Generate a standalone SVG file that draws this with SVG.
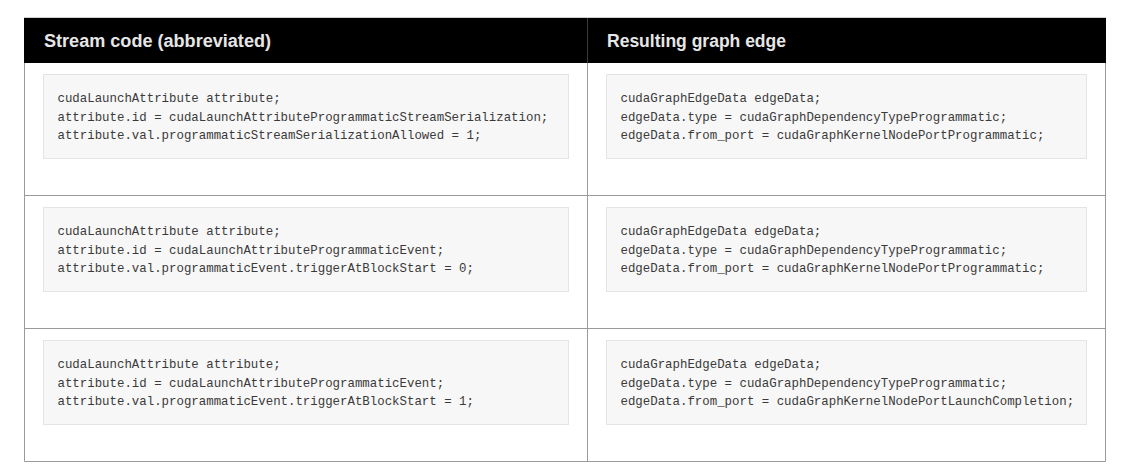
<svg xmlns="http://www.w3.org/2000/svg" width="1144" height="466" viewBox="0 0 1144 466">
<style>
.hdr{font-family:"Liberation Sans",Arial,sans-serif;font-weight:bold;font-size:17.5px;fill:#e6e6e6}
.code{font-family:"Liberation Mono","DejaVu Sans Mono",monospace;font-size:12.4px;fill:#3a3a3a}
.box{fill:#f7f7f7;stroke:#e4e4e4;stroke-width:1}
.grid{stroke:#9a9a9a;stroke-width:1;fill:none}
</style>
<rect width="1144" height="466" fill="#ffffff"/>
<g id="header">
<rect x="24" y="17.5" width="1082" height="45.5" fill="#000000"/>
<line x1="24" y1="17.5" x2="1106" y2="17.5" stroke="#cfcfcf" stroke-width="1"/>
<line x1="587.5" y1="18" x2="587.5" y2="63" stroke="#3a3a3a" stroke-width="1"/>
<text class="hdr" x="44" y="47" textLength="227" lengthAdjust="spacingAndGlyphs">Stream code (abbreviated)</text>
<text class="hdr" x="607" y="47" textLength="179" lengthAdjust="spacingAndGlyphs">Resulting graph edge</text>
</g>
<g id="grid">
<path class="grid" d="M24.5 63 V461.5 H1105.5 V63 M587.5 63 V461.5 M24.5 195.5 H1105.5 M24.5 328.5 H1105.5"/>
</g>
<g id="row1-left">
<rect class="box" x="43.5" y="74.5" width="525" height="84"/>
<text class="code" x="57.5" y="102">cudaLaunchAttribute attribute;</text>
<text class="code" x="57.5" y="120.5">attribute.id = cudaLaunchAttributeProgrammaticStreamSerialization;</text>
<text class="code" x="57.5" y="139">attribute.val.programmaticStreamSerializationAllowed = 1;</text>
</g>
<g id="row1-right">
<rect class="box" x="606.5" y="74.5" width="480" height="84"/>
<text class="code" x="620.5" y="102">cudaGraphEdgeData edgeData;</text>
<text class="code" x="620.5" y="120.5">edgeData.type = cudaGraphDependencyTypeProgrammatic;</text>
<text class="code" x="620.5" y="139">edgeData.from_port = cudaGraphKernelNodePortProgrammatic;</text>
</g>
<g id="row2-left">
<rect class="box" x="43.5" y="207.5" width="525" height="84"/>
<text class="code" x="57.5" y="235">cudaLaunchAttribute attribute;</text>
<text class="code" x="57.5" y="253.5">attribute.id = cudaLaunchAttributeProgrammaticEvent;</text>
<text class="code" x="57.5" y="272">attribute.val.programmaticEvent.triggerAtBlockStart = 0;</text>
</g>
<g id="row2-right">
<rect class="box" x="606.5" y="207.5" width="480" height="84"/>
<text class="code" x="620.5" y="235">cudaGraphEdgeData edgeData;</text>
<text class="code" x="620.5" y="253.5">edgeData.type = cudaGraphDependencyTypeProgrammatic;</text>
<text class="code" x="620.5" y="272">edgeData.from_port = cudaGraphKernelNodePortProgrammatic;</text>
</g>
<g id="row3-left">
<rect class="box" x="43.5" y="340.5" width="525" height="84"/>
<text class="code" x="57.5" y="368">cudaLaunchAttribute attribute;</text>
<text class="code" x="57.5" y="386.5">attribute.id = cudaLaunchAttributeProgrammaticEvent;</text>
<text class="code" x="57.5" y="405">attribute.val.programmaticEvent.triggerAtBlockStart = 1;</text>
</g>
<g id="row3-right">
<rect class="box" x="606.5" y="340.5" width="480" height="84"/>
<text class="code" x="620.5" y="368">cudaGraphEdgeData edgeData;</text>
<text class="code" x="620.5" y="386.5">edgeData.type = cudaGraphDependencyTypeProgrammatic;</text>
<text class="code" x="620.5" y="405">edgeData.from_port = cudaGraphKernelNodePortLaunchCompletion;</text>
</g>
</svg>
